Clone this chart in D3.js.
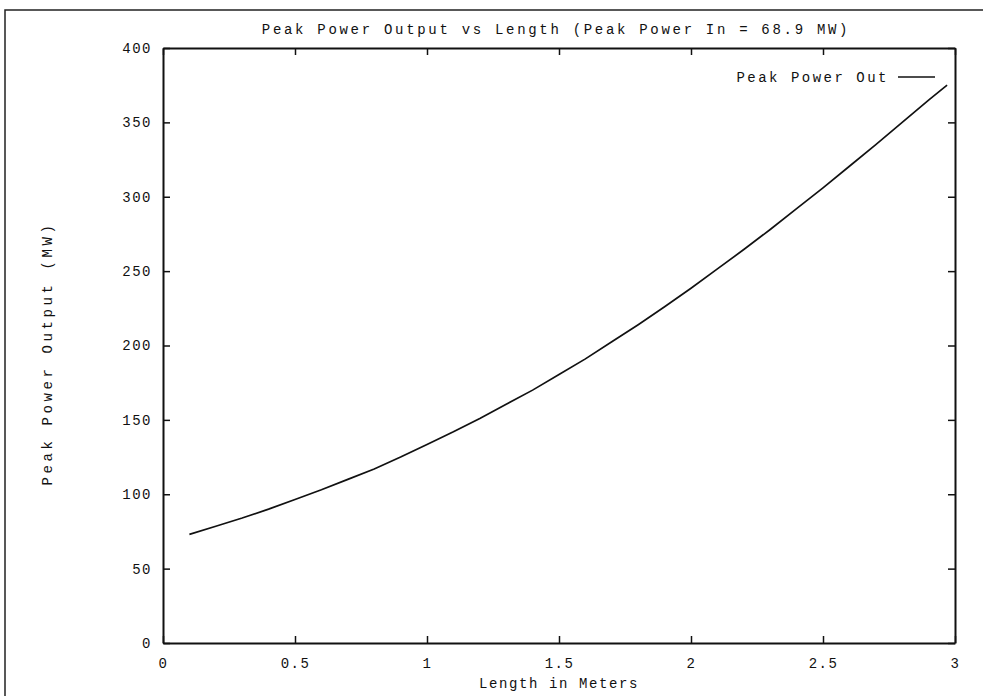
<!DOCTYPE html>
<html>
<head>
<meta charset="utf-8">
<script src="https://cdn.jsdelivr.net/npm/d3@7"></script>
<style>
  body { margin: 0; background: #fff; }
  text { font-family: "Liberation Mono", "DejaVu Sans Mono", monospace; fill: #111; }
</style>
</head>
<body>
<script>
// data
var lengths = [0.1, 0.2, 0.3, 0.4, 0.5, 0.6, 0.7, 0.8, 0.9, 1.0,
               1.1, 1.2, 1.3, 1.4, 1.5, 1.6, 1.7, 1.8, 1.9, 2.0,
               2.1, 2.2, 2.3, 2.4, 2.5, 2.6, 2.7, 2.8, 2.9, 2.97];
var powerOut = [73, 78.5, 84, 90, 96.5, 103, 110, 117, 125, 133.5,
                142, 151, 160.5, 170, 180.5, 191, 202.5, 214, 226, 238.5,
                251.5, 264.5, 278, 292, 306, 320.5, 335, 350, 365, 375];
var xTicks = [0, 0.5, 1, 1.5, 2, 2.5, 3];
var yTicks = [0, 50, 100, 150, 200, 250, 300, 350, 400];

var W = 983, H = 696;
var margin = {top: 48, right: 28, bottom: 53, left: 163};
var width = W - margin.left - margin.right;
var height = H - margin.top - margin.bottom;

var svg = d3.select("body").append("svg")
    .attr("width", W)
    .attr("height", H);

// outer frame (only left and top edges visible)
svg.append("path")
    .attr("d", "M5," + H + "V10H" + W)
    .attr("fill", "none")
    .attr("stroke", "#222")
    .attr("stroke-width", 1.5);

var x = d3.scaleLinear().domain([0, 3]).range([0, width]);
var y = d3.scaleLinear().domain([0, 400]).range([height, 0]);

var g = svg.append("g")
    .attr("transform", "translate(" + margin.left + "," + margin.top + ")");

//Axes - inward ticks on all four sides
var fmt = function(d) { return String(d); };
g.append("g").attr("transform", "translate(0," + height + ")")
    .call(d3.axisBottom(x).tickValues(xTicks).tickSizeInner(-7).tickSizeOuter(0).tickPadding(15).tickFormat(fmt));
g.append("g")
    .call(d3.axisTop(x).tickValues(xTicks).tickSizeInner(-7).tickSizeOuter(0).tickFormat(""));
g.append("g")
    .call(d3.axisLeft(y).tickValues(yTicks).tickSizeInner(-7).tickSizeOuter(0).tickPadding(11).tickFormat(fmt));
g.append("g").attr("transform", "translate(" + width + ",0)")
    .call(d3.axisRight(y).tickValues(yTicks).tickSizeInner(-7).tickSizeOuter(0).tickFormat(""));

g.selectAll(".domain").attr("stroke", "#111").attr("stroke-width", 2);
g.selectAll(".tick line").attr("stroke", "#111").attr("stroke-width", 1.5);
g.selectAll(".tick text")
    .style("font-family", "'Liberation Mono', monospace")
    .attr("font-size", 14)
    .attr("letter-spacing", 1.5)
    .attr("fill", "#111");

//Curve
var line = d3.line()
    .x(function(d, i) { return x(lengths[i]); })
    .y(function(d) { return y(d); });

g.append("path")
    .datum(powerOut)
    .attr("d", line)
    .attr("fill", "none")
    .attr("stroke", "#111")
    .attr("stroke-width", 1.7);

//Title
svg.append("text")
    .attr("x", margin.left + width / 2 - 3)
    .attr("y", 34)
    .attr("text-anchor", "middle")
    .attr("font-size", 14)
    .attr("letter-spacing", 2.7)
    .text("Peak Power Output vs Length (Peak Power In = 68.9 MW)");

//Axis labels
svg.append("text")
    .attr("x", margin.left + width / 2)
    .attr("y", 688)
    .attr("text-anchor", "middle")
    .attr("font-size", 14)
    .attr("letter-spacing", 1.6)
    .text("Length in Meters");

svg.append("text")
    .attr("transform", "translate(52," + (margin.top + height / 2 + 8) + ") rotate(-90)")
    .attr("text-anchor", "middle")
    .attr("font-size", 14)
    .attr("letter-spacing", 3.6)
    .text("Peak Power Output (MW)");

//Legend
svg.append("text")
    .attr("x", 889)
    .attr("y", 82)
    .attr("text-anchor", "end")
    .attr("font-size", 14)
    .attr("letter-spacing", 2.5)
    .text("Peak Power Out");
svg.append("line")
    .attr("x1", 898).attr("x2", 935)
    .attr("y1", 77).attr("y2", 77)
    .attr("stroke", "#111")
    .attr("stroke-width", 1.6);
</script>
</body>
</html>
